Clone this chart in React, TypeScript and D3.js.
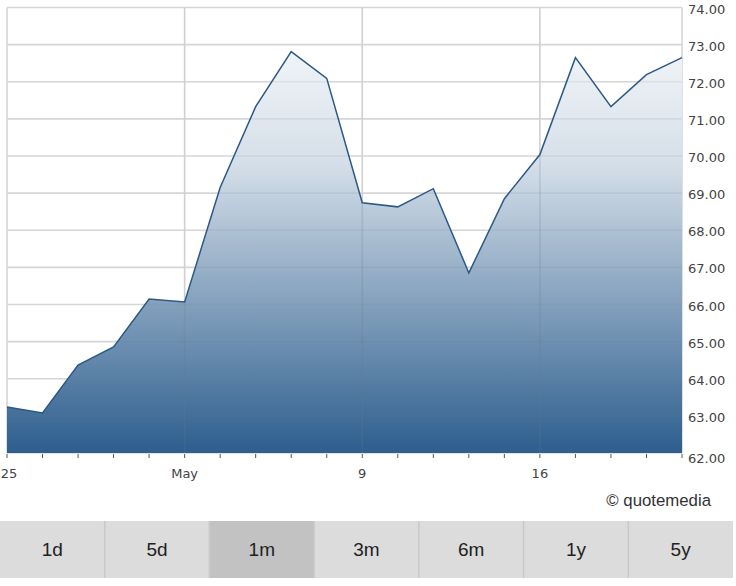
import React from "react";
import * as d3 from "d3";

const dates = ["25","26","27","28","29","May","3","4","5","6","9","10","11","12","13","16","17","18","19","20"];
const prices = [63.24,63.08,64.37,64.86,66.15,66.07,69.15,71.33,72.81,72.09,68.74,68.63,69.12,66.85,68.85,70.04,72.65,71.33,72.19,72.65];
const yTicks = [62,63,64,65,66,67,68,69,70,71,72,73,74];
const labeledDates = ["25","May","9","16"];
const buttons = ["1d","5d","1m","3m","6m","1y","5y"];
const selectedButton = "1m";

export default function App() {
  const W = 736, H = 586;
  const left = 7, right = 682, top = 7.5, bottom = 453;
  const x = d3.scalePoint<string>().domain(dates).range([left, right]);
  const y = d3.scaleLinear().domain([62, 74]).range([bottom, top]);
  const area = d3.area<number>().x((_, i) => x(dates[i])!).y0(bottom).y1(d => y(d));
  const line = d3.line<number>().x((_, i) => x(dates[i])!).y(d => y(d));
  const bw = 733 / buttons.length;
  const areaD = area(prices)!;
  return (
    <div style={{ position: "absolute", left: 0, top: 0, width: W, height: H, background: "#fff" }}>
      <svg width={W} height={H} style={{ display: "block" }}>
        <defs>
          <linearGradient id="g" gradientUnits="userSpaceOnUse" x1="0" y1={top} x2="0" y2={bottom}>
            <stop offset="0" stopColor="#fbfcfd" />
            <stop offset="0.35" stopColor="#d5dfe9" />
            <stop offset="1" stopColor="#2d5e8e" />
          </linearGradient>
          <clipPath id="ac"><path d={areaD} /></clipPath>
        </defs>
        {yTicks.map(t => (
          <line key={"h" + t} x1={left} x2={right} y1={y(t)} y2={y(t)} stroke="#d6d6d6" strokeWidth={1.6} />
        ))}
        <line x1={left} x2={left} y1={top} y2={bottom} stroke="#d6d6d6" strokeWidth={1.6} />
        <line x1={right} x2={right} y1={top} y2={bottom} stroke="#d6d6d6" strokeWidth={1.6} />
        {labeledDates.slice(1).map(d => (
          <line key={"v" + d} x1={x(d)} x2={x(d)} y1={top} y2={bottom} stroke="#d0d0d0" strokeWidth={1.6} />
        ))}
        <path d={areaD} fill="url(#g)" />
        <g clipPath="url(#ac)">
          {yTicks.map(t => (
            <line key={"ho" + t} x1={left} x2={right} y1={y(t)} y2={y(t)} stroke="#6a7c8e" strokeOpacity={0.12} strokeWidth={1.6} />
          ))}
          {labeledDates.slice(1).map(d => (
            <line key={"vo" + d} x1={x(d)} x2={x(d)} y1={top} y2={bottom} stroke="#6a7c8e" strokeOpacity={0.22} strokeWidth={1.6} />
          ))}
        </g>
        <path d={line(prices)!} fill="none" stroke="#2b5987" strokeWidth={1.5} />
        {dates.map(d => (
          <line key={"t" + d} x1={x(d)} x2={x(d)} y1={bottom + 1} y2={bottom + 5} stroke="#555" strokeWidth={1} />
        ))}
        {labeledDates.map(d => (
          <text key={"l" + d} x={x(d)! + (d === "25" ? 2 : 0)} y={478} textAnchor="middle" fontFamily="DejaVu Sans, sans-serif" fontSize={13} fill="#444">{d}</text>
        ))}
        {yTicks.map(t => (
          <text key={"y" + t} x={688} y={y(t) + (t === 62 ? 5 : 1.5)} dy="0.35em" fontFamily="DejaVu Sans, sans-serif" fontSize={13} fill="#444">{t.toFixed(2)}</text>
        ))}
        <text x={711} y={506} textAnchor="end" fontFamily="Liberation Sans, Arial, sans-serif" fontSize={16.8} fill="#333">© quotemedia</text>
        {buttons.map((b, i) => (
          <g key={b}>
            <rect x={i * bw} y={521} width={bw} height={57} fill={b === selectedButton ? "#c2c2c2" : "#dcdcdc"} />
            {i > 0 && <line x1={i * bw} x2={i * bw} y1={521} y2={578} stroke="#c9c9c9" strokeWidth={1.5} />}
            <text x={i * bw + bw / 2} y={556} textAnchor="middle" fontFamily="Liberation Sans, Arial, sans-serif" fontSize={19} fill="#222">{b}</text>
          </g>
        ))}
      </svg>
    </div>
  );
}
